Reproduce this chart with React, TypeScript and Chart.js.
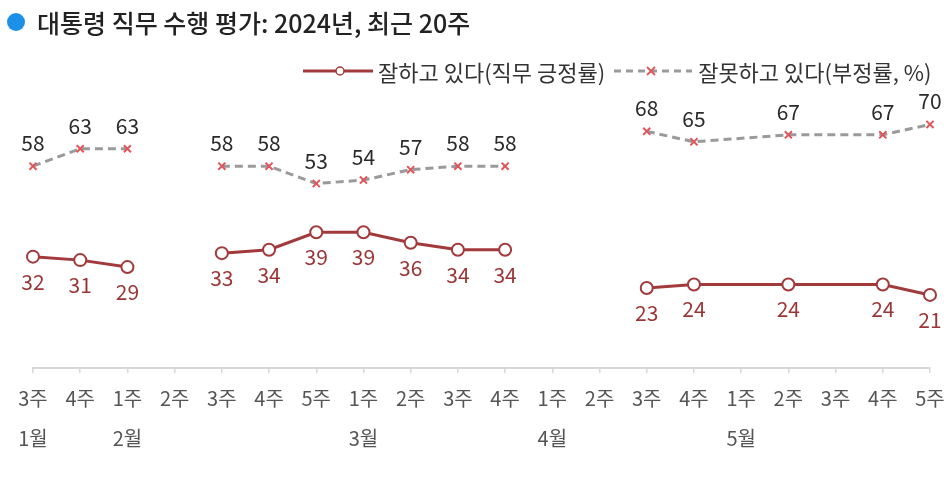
import React, { useEffect, useRef } from "react";
import { Chart, registerables } from "chart.js";

Chart.register(...registerables);

const weeks = ["3주", "4주", "1주", "2주", "3주", "4주", "5주", "1주", "2주", "3주", "4주", "1주", "2주", "3주", "4주", "1주", "2주", "3주", "4주", "5주"];
const months = ["1월", "", "2월", "", "", "", "", "3월", "", "", "", "4월", "", "", "", "5월", "", "", "", ""];
const approve = [32, 31, 29, null, 33, 34, 39, 39, 36, 34, 34, null, null, 23, 24, null, 24, null, 24, 21];
const disapprove = [58, 63, 63, null, 58, 58, 53, 54, 57, 58, 58, null, null, 68, 65, null, 67, null, 67, 70];
// weeks without a survey that the lines still run across
const bridgedWeeks = [15, 17];

const FONT = "'Noto Sans CJK KR', 'Noto Sans', sans-serif";
const RED = "#a23a3c";
const GRAY = "#9a9a9a";
const CROSS = "#e0555a";

const segColor = (color: string) => (ctx: any) => {
  const data = ctx.chart.data.datasets[ctx.datasetIndex].data;
  let i = ctx.p1DataIndex - 1;
  while (i >= 0 && data[i] == null) {
    if (!bridgedWeeks.includes(i)) return "rgba(0,0,0,0)";
    i--;
  }
  return color;
};

const labelPlugin = {
  id: "pointLabels",
  afterDatasetsDraw(chart: any) {
    const ctx = chart.ctx;
    ctx.save();
    ctx.font = `21px ${FONT}`;
    ctx.textAlign = "center";
    ctx.textBaseline = "middle";
    chart.data.datasets.forEach((ds: any, di: number) => {
      const meta = chart.getDatasetMeta(di);
      meta.data.forEach((pt: any, i: number) => {
        const v = ds.data[i];
        if (v == null) return;
        if (di === 0) {
          ctx.fillStyle = "#9a3536";
          ctx.fillText(String(v), pt.x, pt.y + 25);
        } else {
          ctx.fillStyle = "#2a2a2a";
          ctx.fillText(String(v), pt.x, pt.y - 23);
        }
      });
    });
    ctx.restore();
  },
};

export default function App() {
  const ref = useRef<HTMLCanvasElement>(null);
  useEffect(() => {
    if (!ref.current) return;
    const chart = new Chart(ref.current, {
      type: "line",
      data: {
        labels: weeks.map((w, i) => [w, months[i]]),
        datasets: [
          {
            label: "잘하고 있다(직무 긍정률)",
            data: approve,
            borderColor: RED,
            borderWidth: 3,
            pointStyle: "circle",
            pointRadius: 6,
            pointBorderWidth: 2,
            pointBackgroundColor: "#ffffff",
            pointBorderColor: RED,
            spanGaps: true,
            segment: { borderColor: segColor(RED) },
            tension: 0,
          },
          {
            label: "잘못하고 있다(부정률, %)",
            data: disapprove,
            borderColor: GRAY,
            borderWidth: 3,
            borderDash: [8, 5],
            pointStyle: "crossRot",
            pointRadius: 5,
            pointBorderWidth: 2,
            pointBorderColor: CROSS,
            pointBackgroundColor: CROSS,
            spanGaps: true,
            segment: { borderColor: segColor(GRAY) },
            tension: 0,
          },
        ],
      },
      options: {
        animation: false,
        responsive: false,
        maintainAspectRatio: false,
        layout: { padding: { left: 33, right: 22, top: 20, bottom: 17 } },
        plugins: {
          legend: { display: false },
          title: { display: false },
          tooltip: { enabled: false },
        },
        scales: {
          x: {
            offset: false,
            grid: { drawOnChartArea: false, drawTicks: true, tickLength: 5, color: "#d8d8d8", lineWidth: 1.5 },
            border: { display: true, color: "#d8d8d8", width: 2 },
            ticks: {
              color: "#555",
              font: { family: FONT, size: 20, lineHeight: 2 },
              padding: 5,
              maxRotation: 0,
              autoSkip: false,
            },
          },
          y: {
            display: false,
            min: 0,
            max: 100,
          },
        },
      },
      plugins: [labelPlugin],
    });
    return () => chart.destroy();
  }, []);

  return (
    <div style={{ position: "fixed", left: 0, top: 0, width: 952, height: 480, background: "#fff", fontFamily: FONT }}>
      <canvas ref={ref} width={952} height={480} style={{ position: "absolute", left: 0, top: 0 }} />
      <div style={{ position: "absolute", left: 7, top: 6, height: 32, display: "flex", alignItems: "center", whiteSpace: "nowrap" }}>
        <span style={{ display: "inline-block", width: 18, height: 18, borderRadius: 9, background: "#1a90e8", marginRight: 12 }} />
        <span style={{ fontSize: 25, color: "#222", fontWeight: 500 }}>대통령 직무 수행 평가: 2024년, 최근 20주</span>
      </div>
      <div style={{ position: "absolute", left: 302, top: 55, height: 32, display: "flex", alignItems: "center", whiteSpace: "nowrap", fontSize: 22, color: "#333" }}>
        <svg width={72} height={16} style={{ marginRight: 4 }}>
          <line x1={1} y1={8} x2={71} y2={8} stroke={RED} strokeWidth={3} />
          <circle cx={38} cy={8} r={4} fill="#fff" stroke={RED} strokeWidth={1.5} />
        </svg>
        <span>잘하고 있다(직무 긍정률)</span>
        <svg width={80} height={16} style={{ marginLeft: 8, marginRight: 5 }}>
          <line x1={1} y1={8} x2={79} y2={8} stroke={GRAY} strokeWidth={3} strokeDasharray="7 5" />
          <line x1={34} y1={4} x2={42} y2={12} stroke={CROSS} strokeWidth={1.8} />
          <line x1={42} y1={4} x2={34} y2={12} stroke={CROSS} strokeWidth={1.8} />
        </svg>
        <span>잘못하고 있다(부정률, %)</span>
      </div>
    </div>
  );
}
